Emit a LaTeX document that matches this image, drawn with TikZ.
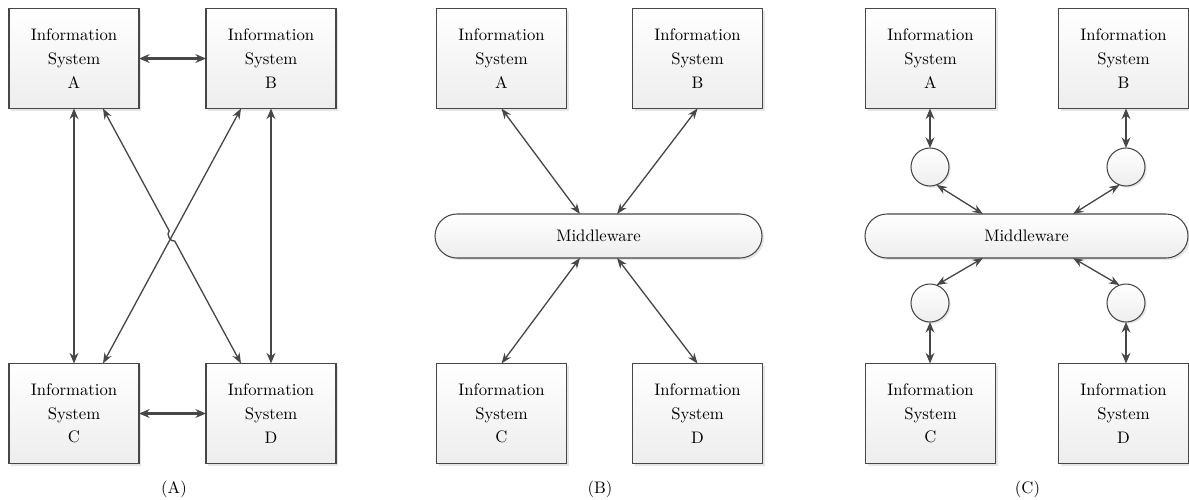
\documentclass[tikz,border=0pt]{standalone}
\usepackage{amsmath}
\usepackage{tikz}
\usetikzlibrary{arrows.meta, positioning}
\usetikzlibrary{shadows, calc}

\definecolor{linegray}{HTML}{474747}

\begin{document}
\begin{tikzpicture}[
		node distance=5.1cm and 1.34cm,
		every node/.style={font=\fontsize{9.5}{13.5}\selectfont},
		system/.style={
			rectangle,
			draw=linegray,
			line width=0.6pt,
			align=center,
			minimum width=2.6cm,
			minimum height=2.0cm,
			inner sep=0pt,
			outer sep=0pt,
			top color=white,
			bottom color=gray!14,
			drop shadow={shadow xshift=1.2pt, shadow yshift=-1.2pt, opacity=0.2}
		},
		middleware/.style={
			rectangle,
			draw=linegray,
			line width=0.6pt,
			rounded corners=0.44cm,
			minimum height=0.88cm,
			inner sep=0pt,
			outer sep=0pt,
			top color=white,
			bottom color=gray!14,
			drop shadow={shadow xshift=1.2pt, shadow yshift=-1.2pt, opacity=0.2}
		},
		adapter/.style={
			circle,
			draw=linegray,
			line width=0.6pt,
			minimum size=0.76cm,
			inner sep=0pt,
			outer sep=0pt,
			top color=white,
			bottom color=gray!14,
			drop shadow={shadow xshift=1pt, shadow yshift=-1pt, opacity=0.2}
		},
		thickarrow/.style={
			{Stealth[length=6pt,width=5pt]}-{Stealth[length=6pt,width=5pt]},
			draw=linegray,
			line width=1.2pt
		},
		thinarrow/.style={
			{Stealth[length=6pt,width=4.5pt]}-{Stealth[length=6pt,width=4.5pt]},
			draw=linegray,
			line width=0.75pt
		}
		]
		\useasboundingbox (0,0) rectangle (23.78,-9.98);
		
		% Nodes (A)
		\node[system] (aA) at (1.48,-1.17) {Information\\System\\A};
		\node[system, right=of aA] (aB) {Information\\System\\B};
		\node[system, below=of aA] (aC) {Information\\System\\C};
		\node[system, below=of aB] (aD) {Information\\System\\D};
		\node (labA) at (3.48,-9.78) {(A)};
		
		% Nodes (B)
		\node[system] (bA) at (10.03,-1.17) {Information\\System\\A};
		\node[system, right=1.32cm of bA] (bB) {Information\\System\\B};
		\node[system, below=of bA] (bC) {Information\\System\\C};
		\node[system, below=of bB] (bD) {Information\\System\\D};
		\node[middleware, minimum width=6.54cm] (mwB) at (11.97,-4.72) {Middleware};
		\node (labB) at (12.0,-9.78) {(B)};
		
		% Nodes (C)
		\node[system] (cA) at (18.61,-1.17) {Information\\System\\A};
		\node[system, right=1.26cm of cA] (cB) {Information\\System\\B};
		\node[system, below=of cA] (cC) {Information\\System\\C};
		\node[system, below=of cB] (cD) {Information\\System\\D};
		\node[middleware, minimum width=6.46cm] (mwC) at (20.53,-4.72) {Middleware};
		\node[adapter] (adA) at (18.6,-3.34) {};
		\node[adapter] (adB) at (22.52,-3.34) {};
		\node[adapter] (adC) at (18.6,-6.06) {};
		\node[adapter] (adD) at (22.52,-6.06) {};
		\node (labC) at (20.55,-9.78) {(C)};
		
		% Arrows (A)
		\draw[thickarrow] (aA) -- (aB);
		\draw[thickarrow] (aC) -- (aD);
		\draw[thickarrow] (aA) -- (aC);
		\draw[thickarrow] (aB) -- (aD);
		\draw[thinarrow] ([xshift=-0.6cm]aB.south) -- ([xshift=0.58cm]aC.north);
		% crossing with a small hop
		\draw[thinarrow] ([xshift=0.58cm]aA.south)
		-- ($([xshift=0.58cm]aA.south)!0.48!([xshift=-0.6cm]aD.north)$)
		to[bend right=80] ($([xshift=0.58cm]aA.south)!0.52!([xshift=-0.6cm]aD.north)$)
		-- ([xshift=-0.6cm]aD.north);
		
		% Arrows (B)
		\draw[thinarrow] (bA.south) -- ([xshift=-0.37cm]mwB.north);
		\draw[thinarrow] (bB.south) -- ([xshift=0.37cm]mwB.north);
		\draw[thinarrow] (bC.north) -- ([xshift=-0.37cm]mwB.south);
		\draw[thinarrow] (bD.north) -- ([xshift=0.37cm]mwB.south);
		
		% Arrows (C)
		\draw[thickarrow] (cA.south -| adA) -- (adA);
		\draw[thickarrow] (cB.south -| adB) -- (adB);
		\draw[thickarrow] (cC.north -| adC) -- (adC);
		\draw[thickarrow] (cD.north -| adD) -- (adD);
		\draw[thinarrow] (adA.-70) -- ([xshift=-0.87cm]mwC.north);
		\draw[thinarrow] (adB.-110) -- ([xshift=0.93cm]mwC.north);
		\draw[thinarrow] (adC.70) -- ([xshift=-0.87cm]mwC.south);
		\draw[thinarrow] (adD.110) -- ([xshift=0.93cm]mwC.south);
		
\end{tikzpicture}
\end{document}
